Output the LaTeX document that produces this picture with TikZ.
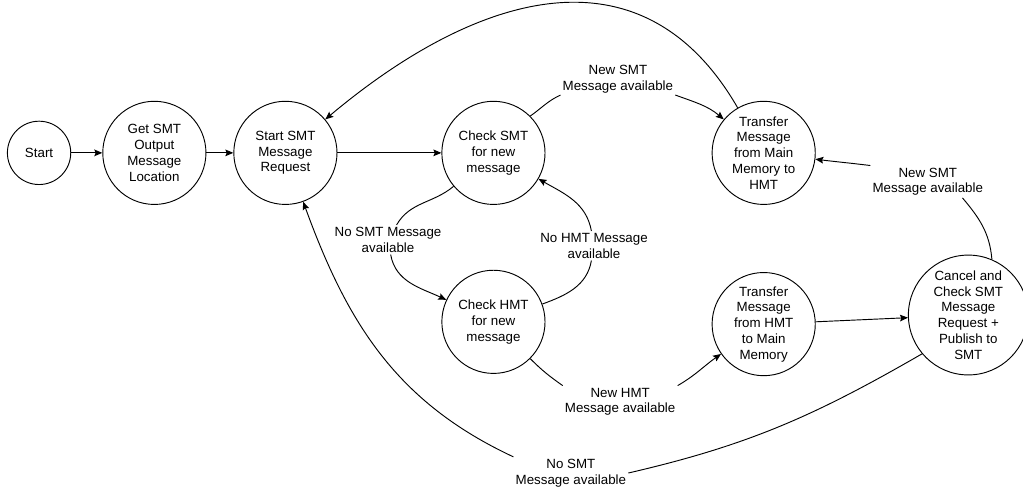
\documentclass[tikz,border=0pt]{standalone}
\usepackage{fontspec}
\setmainfont{Liberation Sans}
\usepackage{tikz}
\usetikzlibrary{positioning, arrows.meta}
\tikzstyle{stateNode} =[circle, draw, line width=0.7pt, align=center, inner sep=0pt, minimum size=2.72cm, font=\fontsize{10}{11.8}\selectfont]
\tikzstyle{edgeLabel} =[fill=white, align=center, inner sep=1.5pt, font=\fontsize{10}{11.8}\selectfont]
\tikzstyle{transition} =[-{Stealth[length=6pt, width=5pt, inset=1pt]}, line width=0.7pt]

\begin{document}
\begin{tikzpicture}
\useasboundingbox (-1.03,-9.01) rectangle (25.94,4.03);

\node (start) [stateNode, minimum size=1.67cm] at (0,0) {Start};
\node (getLoc) [stateNode, right=0.82cm of start] {Get SMT\\Output\\Message\\Location};
\node (startReq) [stateNode, right=0.71cm of getLoc] {Start SMT\\Message\\Request};
\node (checkSMT) [stateNode, right=2.74cm of startReq] {Check SMT\\for new\\message};
\node (transferMain) [stateNode, right=4.38cm of checkSMT] {Transfer\\Message\\from Main\\Memory to\\HMT};
\node (checkHMT) [stateNode, below=1.71cm of checkSMT] {Check HMT\\for new\\message};
\node (transferHMT) [stateNode, below=1.77cm of transferMain] {Transfer\\Message\\from HMT\\to Main\\Memory};
\node (cancel) [stateNode, minimum size=3.16cm, right=2.43cm of transferHMT, yshift=0.24cm] {Cancel and\\Check SMT\\Message\\Request +\\Publish to\\SMT};

\node (lblNewSmtTop) [edgeLabel] at (15.26,1.95) {New SMT\\Message available};
\node (lblNoSmtLeft) [edgeLabel] at (9.20,-2.29) {No SMT Message\\available};
\node (lblNoHmt) [edgeLabel] at (14.63,-2.45) {No HMT Message\\available};
\node (lblNewHmt) [edgeLabel] at (15.32,-6.56) {New HMT\\Message available};
\node (lblNewSmtRight) [edgeLabel] at (23.43,-0.76) {New SMT\\Message available};
\node (lblNoSmtBottom) [edgeLabel] at (14.02,-8.44) {No SMT\\Message available};

\draw[transition]
	(start) edge (getLoc)
	(getLoc) edge (startReq)
	(startReq) edge (checkSMT)
	(transferHMT) edge (cancel);

\draw[line width=0.7pt] (checkSMT.45) to[out=35, in=205] (lblNewSmtTop.south west);
\draw[transition] (lblNewSmtTop.south east) to[out=-20, in=140] (transferMain);

\draw[transition] (transferMain) to[out=120, in=40, looseness=1.2] (startReq);

\draw[line width=0.7pt] (checkSMT) to[out=-140, in=60] (lblNoSmtLeft);
\draw[transition] (lblNoSmtLeft) to[out=-80, in=155] (checkHMT);

\draw[line width=0.7pt] (checkHMT) to[out=20, in=-100] (lblNoHmt);
\draw[transition] (lblNoHmt) to[out=100, in=-30] (checkSMT);

\draw[line width=0.7pt] (checkHMT) to[out=-45, in=145] (lblNewHmt.north west);
\draw[transition] (lblNewHmt.north east) to[out=30, in=-145] (transferHMT);

\draw[line width=0.7pt] (cancel.67) to[out=95, in=-50] (lblNewSmtRight.-25);
\draw[transition] (lblNewSmtRight.north west) to[out=173, in=-7] (transferMain);

\draw[line width=0.7pt] (cancel.-140) to[out=-150, in=13] (lblNoSmtBottom.east);
\draw[transition] (lblNoSmtBottom.north west) to[out=155, in=-70] (startReq);
\end{tikzpicture}
\end{document}
